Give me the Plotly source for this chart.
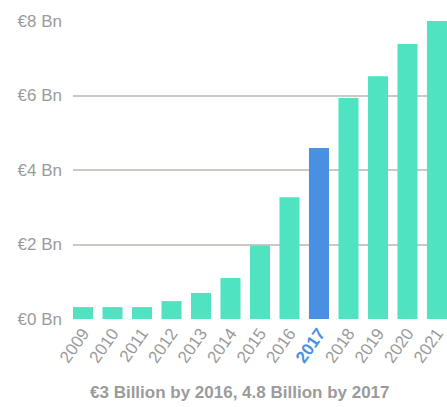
import plotly.graph_objects as go

years = ["2009", "2010", "2011", "2012", "2013", "2014", "2015", "2016", "2017", "2018", "2019", "2020", "2021"]
values = [0.32, 0.32, 0.32, 0.48, 0.70, 1.10, 1.97, 3.27, 4.59, 5.93, 6.52, 7.38, 8.00]
highlight = "2017"
y_ticks = [0, 2, 4, 6, 8]
y_labels = ["€0 Bn", "€2 Bn", "€4 Bn", "€6 Bn", "€8 Bn"]
title_text = "€3 Billion by 2016, 4.8 Billion by 2017"

TEAL = "#50E3C2"
BLUE = "#4A90E2"
GRAY = "#9b9b9b"

colors = [BLUE if y == highlight else TEAL for y in years]
ticktext = [f"<b><span style='color:{BLUE}'>{y}</span></b>" if y == highlight else y for y in years]

fig = go.Figure(go.Bar(x=list(range(len(years))), y=values, marker=dict(color=colors, line=dict(width=0)), width=0.68))

fig.update_layout(
    width=447, height=407,
    margin=dict(l=73, r=0, t=21, b=88),
    plot_bgcolor="white", paper_bgcolor="white",
    font=dict(family="Liberation Sans, Arial, sans-serif", color=GRAY, size=17),
    showlegend=False,
)
fig.update_xaxes(
    range=[-0.34, 12.34],
    tickvals=list(range(len(years))), ticktext=ticktext,
    tickangle=-55, showgrid=False, zeroline=False, showline=False,
    tickfont=dict(size=17, color=GRAY), ticks="", ticklabeloverflow="allow",
)
fig.update_yaxes(
    range=[0, 8], tickvals=y_ticks, ticktext=y_labels,
    showgrid=True, gridcolor="#cac9c4", gridwidth=2,
    zeroline=False, showline=False, ticks="",
    tickfont=dict(size=17, color=GRAY), ticklabelstandoff=10,
)
fig.add_annotation(
    text=f"<b>{title_text}</b>", xref="paper", yref="paper",
    x=(240 - 73) / 374, y=-(392 - 319) / 298, xanchor="center", yanchor="middle",
    showarrow=False, font=dict(size=17, color=GRAY),
)
fig.write_html(
    "out.html",
    config={"displayModeBar": False},
    post_script="document.body.style.margin='0';document.body.style.overflow='hidden';",
)
